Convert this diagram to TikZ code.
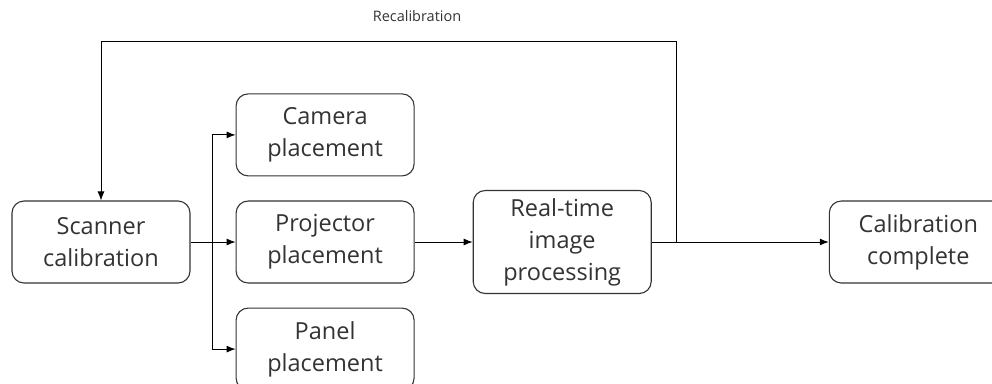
\documentclass[tikz,border=0pt]{standalone}
\usepackage{fontspec}
\setmainfont{Open Sans}
\usetikzlibrary{arrows.meta,positioning}
\definecolor{boxgray}{HTML}{333333}

\begin{document}
\begin{tikzpicture}[
  x=1pt, y=1pt,
  node distance=24pt and 45pt,
  box/.style={
    draw=boxgray, rounded corners=12pt, minimum width=178pt, minimum height=82pt,
    align=center, font=\fontsize{23.5}{32}\selectfont, text=boxgray, line width=1.1pt,
    inner sep=0pt,
  },
  arrow/.style={-{Latex[length=9pt,width=7pt]}, line width=0.9pt},
  lbl/.style={font=\fontsize{14.5}{17}\selectfont, text=boxgray},
]
\useasboundingbox (0,0) rectangle (992,-383);

\node[box] (scan) at (101,-242) {Scanner\\calibration};
\node[box, right=45pt of scan] (proj) {Projector\\placement};
\node[box, above=of proj] (cam) {Camera\\placement};
\node[box, below=of proj] (panel) {Panel\\placement};
\node[box, minimum height=103pt, right=58pt of proj] (rt) {Real-time\\image\\processing};
\node[box, right=177pt of rt] (done) {Calibration\\complete};

\coordinate[right=22pt of scan.east] (split);
\coordinate[right=25pt of rt.east] (tap);
\coordinate (loopy) at (0,-41);

\draw[arrow] (scan) -- (proj);
\draw[arrow] (split) |- (cam);
\draw[arrow] (split) |- (panel);
\draw[arrow] (proj) -- (rt);
\draw[arrow] (rt) -- (done);

% feedback loop
\draw[arrow] (tap) -- (tap |- loopy) -| (scan.north);
\node[lbl] (recal) at (417,-16) {Recalibration};

\end{tikzpicture}
\end{document}
